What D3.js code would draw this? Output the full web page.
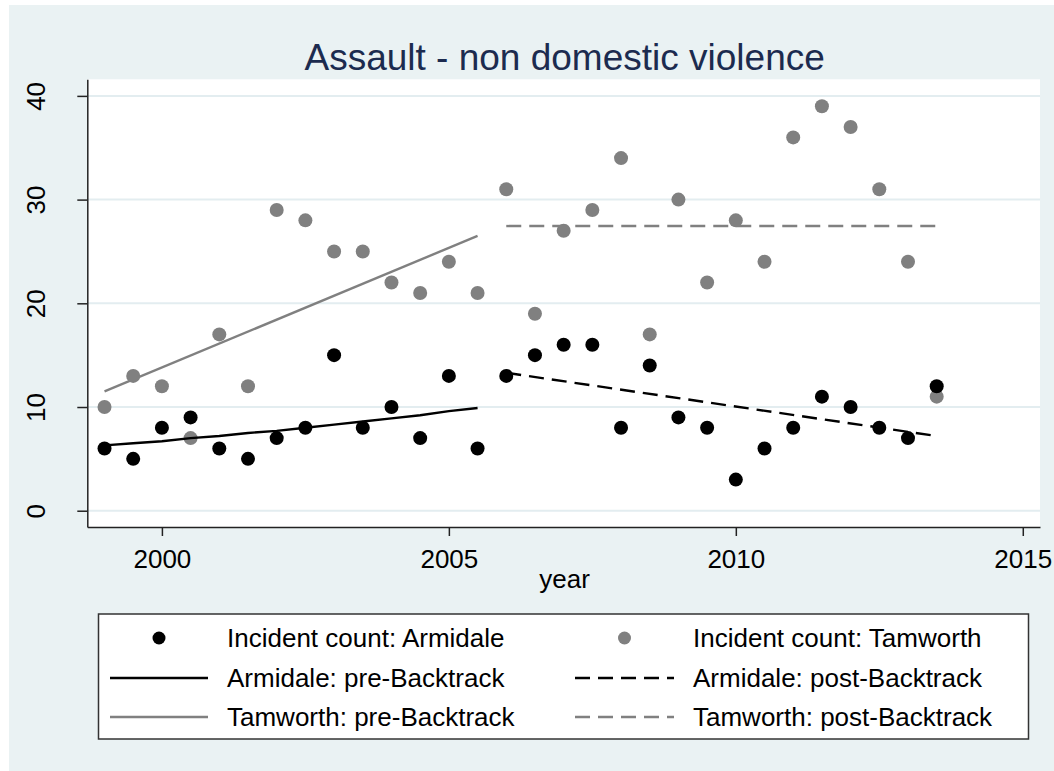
<!DOCTYPE html>
<html>
<head>
<meta charset="utf-8">
<script src="https://cdn.jsdelivr.net/npm/d3@7"></script>
<style>
  body { margin: 0; background: #fff; }
  svg { display: block; font-family: "Liberation Sans", Arial, sans-serif; }
</style>
</head>
<body>
<svg id="chart" width="1054" height="771"></svg>
<script>
// half-year time points
var years = [1999, 1999.5, 2000, 2000.5, 2001, 2001.5, 2002, 2002.5, 2003, 2003.5,
             2004, 2004.5, 2005, 2005.5, 2006, 2006.5, 2007, 2007.5, 2008, 2008.5,
             2009, 2009.5, 2010, 2010.5, 2011, 2011.5, 2012, 2012.5, 2013, 2013.5];

var armidale = [6, 5, 8, 9, 6, 5, 7, 8, 15, 8, 10, 7, 13, 6, 13, 15, 16, 16, 8, 14,
                9, 8, 3, 6, 8, 11, 10, 8, 7, 12];
var tamworth = [10, 13, 12, 7, 17, 12, 29, 28, 25, 25, 22, 21, 24, 21, 31, 19, 27, 29, 34, 17,
                30, 22, 28, 24, 36, 39, 37, 31, 24, 11];

// fitted lines
var armPreX = [1999, 1999.5, 2000, 2000.5, 2001, 2001.5, 2002, 2002.5, 2003, 2003.5, 2004, 2004.5, 2005, 2005.5];
var armPreY = [6.3, 6.5, 6.7, 7.0, 7.2, 7.5, 7.7, 8.0, 8.3, 8.6, 8.9, 9.2, 9.6, 9.9];
var armPostX = [2006, 2013.5];
var armPostY = [13.3, 7.2];
var tamPreX = [1999, 2005.5];
var tamPreY = [11.5, 26.5];
var tamPostX = [2006, 2013.5];
var tamPostY = [27.45, 27.45];

var xTicks = [2000, 2005, 2010, 2015];
var yTicks = [0, 10, 20, 30, 40];

var titleText = "Assault - non domestic violence";
var xTitle = "year";
var legendLabels = ["Incident count: Armidale", "Incident count: Tamworth",
                    "Armidale: pre-Backtrack", "Armidale: post-Backtrack",
                    "Tamworth: pre-Backtrack", "Tamworth: post-Backtrack"];

var black = "#000000", gray = "#808080";
var bg = "#eaf2f3", grid = "#e3edf0";

var svg = d3.select("#chart");
var L = 87.3, T = 79.3, R = 1040, B = 527;

var x = d3.scaleLinear().domain([1998.7, 2015.3]).range([L, R]);
var y = d3.scaleLinear().domain([-1.57, 41.6]).range([B, T]);

// graph region
svg.append("rect").attr("x", 9).attr("y", 5).attr("width", 1054 - 9).attr("height", 771 - 5)
  .style("fill", bg);
// plot region
svg.append("rect").attr("x", L).attr("y", T).attr("width", R - L).attr("height", B - T)
  .style("fill", "#fff");

// gridlines
svg.append("g").selectAll("line").data(yTicks).enter().append("line")
  .attr("x1", L).attr("x2", R)
  .attr("y1", d => y(d)).attr("y2", d => y(d))
  .style("stroke", grid).style("stroke-width", 2);

// axes
var yAxis = svg.append("g").attr("transform", "translate(" + L + ",0)")
  .call(d3.axisLeft(y).tickValues(yTicks).tickSize(10).tickSizeOuter(0));
yAxis.selectAll("text")
  .attr("transform", "rotate(-90)")
  .attr("x", 0).attr("y", -42).attr("dy", 0)
  .attr("text-anchor", "middle");

var xAxis = svg.append("g").attr("transform", "translate(0," + B + ")")
  .call(d3.axisBottom(x).tickValues(xTicks).tickFormat(d3.format("d")).tickSize(9).tickSizeOuter(0));
xAxis.selectAll("text").attr("y", 41).attr("dy", 0);

svg.selectAll(".tick text").style("font-size", "26px").style("fill", "#000")
  .style("font-family", "Liberation Sans, Arial, sans-serif");
svg.selectAll(".domain, .tick line").style("stroke", "#222").style("stroke-width", 1.5);

// fitted lines
var line = d3.line().x(d => x(d[0])).y(d => y(d[1]));
function drawFit(xs, ys, color, dash) {
  svg.append("path")
    .datum(d3.zip(xs, ys))
    .attr("d", line)
    .style("fill", "none")
    .style("stroke", color)
    .style("stroke-width", 2.4)
    .style("stroke-dasharray", dash);
}

// scatter points
svg.append("g").selectAll("circle").data(d3.zip(years, tamworth)).enter().append("circle")
  .attr("cx", d => x(d[0])).attr("cy", d => y(d[1])).attr("r", 7)
  .style("fill", gray);
svg.append("g").selectAll("circle").data(d3.zip(years, armidale)).enter().append("circle")
  .attr("cx", d => x(d[0])).attr("cy", d => y(d[1])).attr("r", 7)
  .style("fill", black);

drawFit(armPreX, armPreY, black, null);
drawFit(armPostX, armPostY, black, "15,8");
drawFit(tamPreX, tamPreY, gray, null);
drawFit(tamPostX, tamPostY, gray, "15,8");

// title
svg.append("text").attr("x", (L + R) / 2 + 1).attr("y", 70)
  .attr("text-anchor", "middle")
  .style("font-size", "37px").style("fill", "#1c2b4f")
  .text(titleText);

svg.append("text").attr("x", (L + R) / 2 + 1).attr("y", 588)
  .attr("text-anchor", "middle")
  .style("font-size", "26px").style("fill", "#000")
  .text(xTitle);

// legend
var lg = svg.append("g");
lg.append("rect").attr("x", 98.5).attr("y", 614).attr("width", 930).attr("height", 125)
  .style("fill", "#fff").style("stroke", "#333").style("stroke-width", 1.5);

var rowY = [638, 678, 717];
var symX = [[110, 208], [575, 674]];
var textX = [227, 693];
var items = [
  {type: "dot", color: black}, {type: "dot", color: gray},
  {type: "line", color: black, dash: null}, {type: "line", color: black, dash: "15,8"},
  {type: "line", color: gray, dash: null}, {type: "line", color: gray, dash: "15,8"}
];
items.forEach(function(it, i) {
  var col = i % 2, row = Math.floor(i / 2);
  var cy = rowY[row];
  if (it.type === "dot") {
    lg.append("circle").attr("cx", (symX[col][0] + symX[col][1]) / 2).attr("cy", cy).attr("r", 6.5)
      .style("fill", it.color);
  } else {
    lg.append("line").attr("x1", symX[col][0]).attr("x2", symX[col][1])
      .attr("y1", cy).attr("y2", cy)
      .style("stroke", it.color).style("stroke-width", 2.4)
      .style("stroke-dasharray", it.dash);
  }
  lg.append("text").attr("x", textX[col]).attr("y", cy + 9)
    .style("font-size", "26px").style("fill", "#000")
    .text(legendLabels[i]);
});
</script>
</body>
</html>
